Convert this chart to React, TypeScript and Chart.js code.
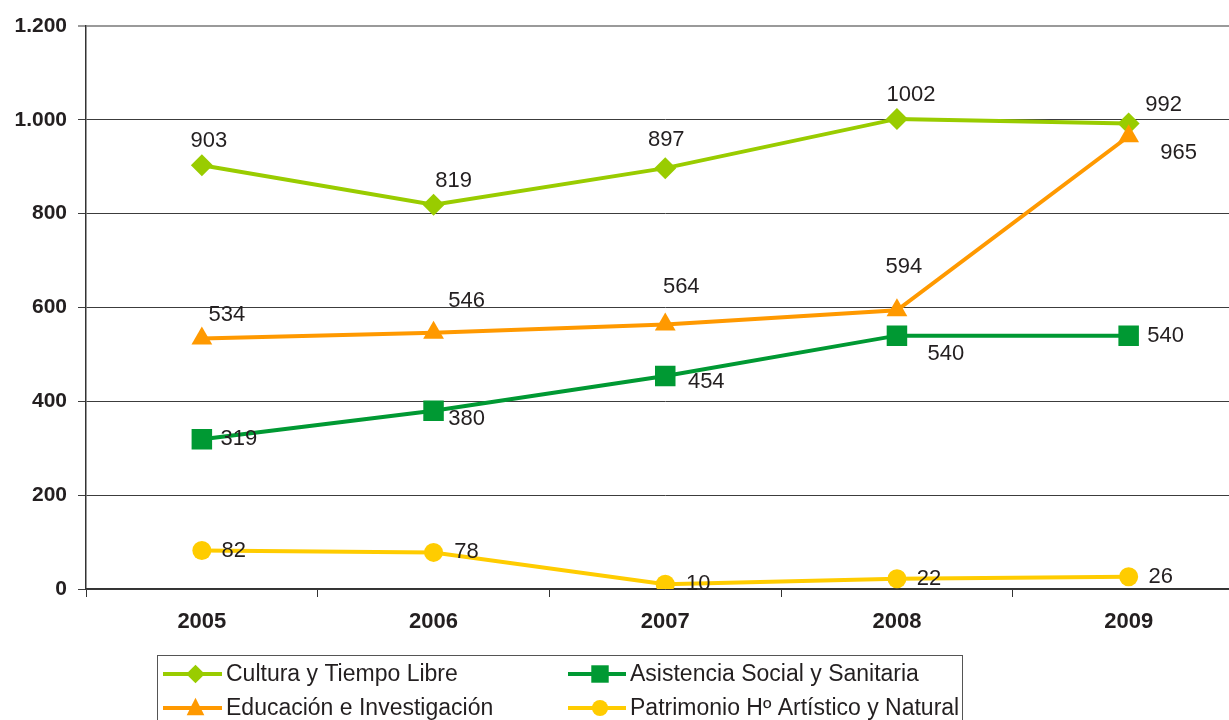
import React, { useEffect, useRef } from 'react';
import { Chart, registerables } from 'chart.js';
Chart.register(...registerables);

const years = ['2005', '2006', '2007', '2008', '2009'];
const cultura = [903, 819, 897, 1002, 992];
const asistencia = [319, 380, 454, 540, 540];
const educacion = [534, 546, 564, 594, 965];
const patrimonio = [82, 78, 10, 22, 26];
const seriesNames = [
  'Cultura y Tiempo Libre',
  'Asistencia Social y Sanitaria',
  'Educación e Investigación',
  'Patrimonio Hº Artístico y Natural',
];
const yMin = 0;
const yMax = 1200;
const yStep = 200;

// label placement offsets (relative to each point)
const culturaLabelOffsets = [[7, -24], [20, -24], [1, -28], [14, -24], [35, -19]];
const asistenciaLabelOffsets = [[37, 0], [33, 8], [41, 6], [49, 18], [37, 0]];
const educacionLabelOffsets = [[25, -24], [33, -32], [16, -37], [7, -43], [50, 17]];
const patrimonioLabelOffsets = [[32, 0], [33, 0], [33, 0], [32, 0], [32, 0]];

const COLORS = ['#99CC00', '#009933', '#FF9900', '#FFCC00'];
const STYLES = ['rectRot', 'rect', 'triangle', 'circle'];
const RADII = [11, 14.5, 12, 9.5];

const fmt = (v: number) => String(v).replace(/\B(?=(\d{3})+(?!\d))/g, '.');

function drawMarker(ctx: CanvasRenderingContext2D, style: string, x: number, y: number, r: number, color: string) {
  ctx.save();
  ctx.fillStyle = color;
  ctx.beginPath();
  if (style === 'rectRot') {
    ctx.moveTo(x, y - r);
    ctx.lineTo(x + r, y);
    ctx.lineTo(x, y + r);
    ctx.lineTo(x - r, y);
    ctx.closePath();
  } else if (style === 'rect') {
    const s = r * Math.SQRT1_2;
    ctx.rect(x - s, y - s, 2 * s, 2 * s);
  } else if (style === 'triangle') {
    ctx.moveTo(x, y - r);
    ctx.lineTo(x + r * 0.866, y + r * 0.7);
    ctx.lineTo(x - r * 0.866, y + r * 0.7);
    ctx.closePath();
  } else {
    ctx.arc(x, y, r, 0, Math.PI * 2);
  }
  ctx.fill();
  ctx.restore();
}

export default function App() {
  const ref = useRef<HTMLCanvasElement | null>(null);

  useEffect(() => {
    const canvas = ref.current;
    if (!canvas) return;
    const values = [cultura, asistencia, educacion, patrimonio];
    const offsets = [culturaLabelOffsets, asistenciaLabelOffsets, educacionLabelOffsets, patrimonioLabelOffsets];
    const orders = [4, 3, 2, 1];

    const labelPlugin = {
      id: 'valueLabels',
      afterDatasetsDraw(chart: any) {
        const ctx = chart.ctx as CanvasRenderingContext2D;
        ctx.save();
        ctx.font = '22px "Liberation Sans", Arial, sans-serif';
        ctx.fillStyle = '#231F20';
        ctx.textAlign = 'center';
        ctx.textBaseline = 'middle';
        chart.data.datasets.forEach((ds: any, di: number) => {
          const meta = chart.getDatasetMeta(di);
          meta.data.forEach((pt: any, i: number) => {
            const off = offsets[di][i];
            ctx.fillText(String(ds.data[i]), pt.x + off[0], pt.y + off[1]);
          });
        });
        ctx.restore();
      },
    };

    const legendPlugin = {
      id: 'boxLegend',
      afterDraw(chart: any) {
        const ctx = chart.ctx as CanvasRenderingContext2D;
        ctx.save();
        ctx.strokeStyle = '#555555';
        ctx.lineWidth = 1;
        ctx.strokeRect(157.5, 655.5, 805, 80);
        const cols = [{ x1: 163, x2: 222, tx: 226 }, { x1: 568, x2: 626, tx: 630 }];
        const rows = [674, 708];
        ctx.font = '23px "Liberation Sans", Arial, sans-serif';
        ctx.textBaseline = 'middle';
        ctx.textAlign = 'left';
        seriesNames.forEach((name, i) => {
          const c = cols[i % 2];
          const y = rows[Math.floor(i / 2)];
          ctx.strokeStyle = COLORS[i];
          ctx.lineWidth = 4;
          ctx.beginPath();
          ctx.moveTo(c.x1, y);
          ctx.lineTo(c.x2, y);
          ctx.stroke();
          drawMarker(ctx, STYLES[i], (c.x1 + c.x2) / 2 + 3, y, RADII[i] * 0.85, COLORS[i]);
          ctx.fillStyle = '#231F20';
          ctx.fillText(name, c.tx, y + 1);
        });
        ctx.restore();
      },
    };

    const chart = new Chart(canvas, {
      type: 'line',
      data: {
        labels: years,
        datasets: values.map((v, i) => ({
          label: seriesNames[i],
          data: v,
          borderColor: COLORS[i],
          backgroundColor: COLORS[i],
          pointBackgroundColor: COLORS[i],
          pointBorderColor: COLORS[i],
          pointBorderWidth: 0,
          pointStyle: STYLES[i] as any,
          pointRadius: RADII[i],
          borderWidth: 4,
          tension: 0,
          order: orders[i],
        })),
      },
      options: {
        responsive: false,
        animation: false,
        devicePixelRatio: 1,
        layout: { padding: { top: 26, left: 0, right: 0, bottom: 0 } },
        plugins: {
          legend: { display: false },
          tooltip: { enabled: false },
        },
        scales: {
          x: {
            type: 'category',
            offset: true,
            afterFit: (s: any) => { s.height = 131; },
            grid: {
              display: true,
              drawOnChartArea: false,
              drawTicks: true,
              tickLength: 8,
              color: '#333333',
              offset: true,
            },
            border: { color: '#333333', width: 1.5 },
            ticks: {
              color: '#231F20',
              font: { family: '"Liberation Sans", Arial, sans-serif', size: 22, weight: 'bold' },
              padding: 12,
            },
          },
          y: {
            min: yMin,
            max: yMax,
            afterFit: (s: any) => { s.width = 86; },
            grid: {
              tickLength: 8,
              color: (c: any) => (c.tick && c.tick.value === yMax ? '#9a9a9a' : '#3c3c3c'),
              lineWidth: (c: any) => (c.tick && c.tick.value === yMax ? 2 : 1),
            },
            border: { color: '#333333', width: 1.5 },
            ticks: {
              stepSize: yStep,
              color: '#231F20',
              font: { family: '"Liberation Sans", Arial, sans-serif', size: 21, weight: 'bold' },
              padding: 11,
              callback: (v: any) => fmt(Number(v)),
            },
          },
        },
      },
      plugins: [labelPlugin, legendPlugin],
    });
    return () => chart.destroy();
  }, []);

  return (
    <div style={{ position: 'fixed', left: 0, top: 0, width: 1229, height: 720, overflow: 'hidden', background: '#fff' }}>
      <canvas ref={ref} width={1259} height={720} style={{ display: 'block' }} />
    </div>
  );
}
